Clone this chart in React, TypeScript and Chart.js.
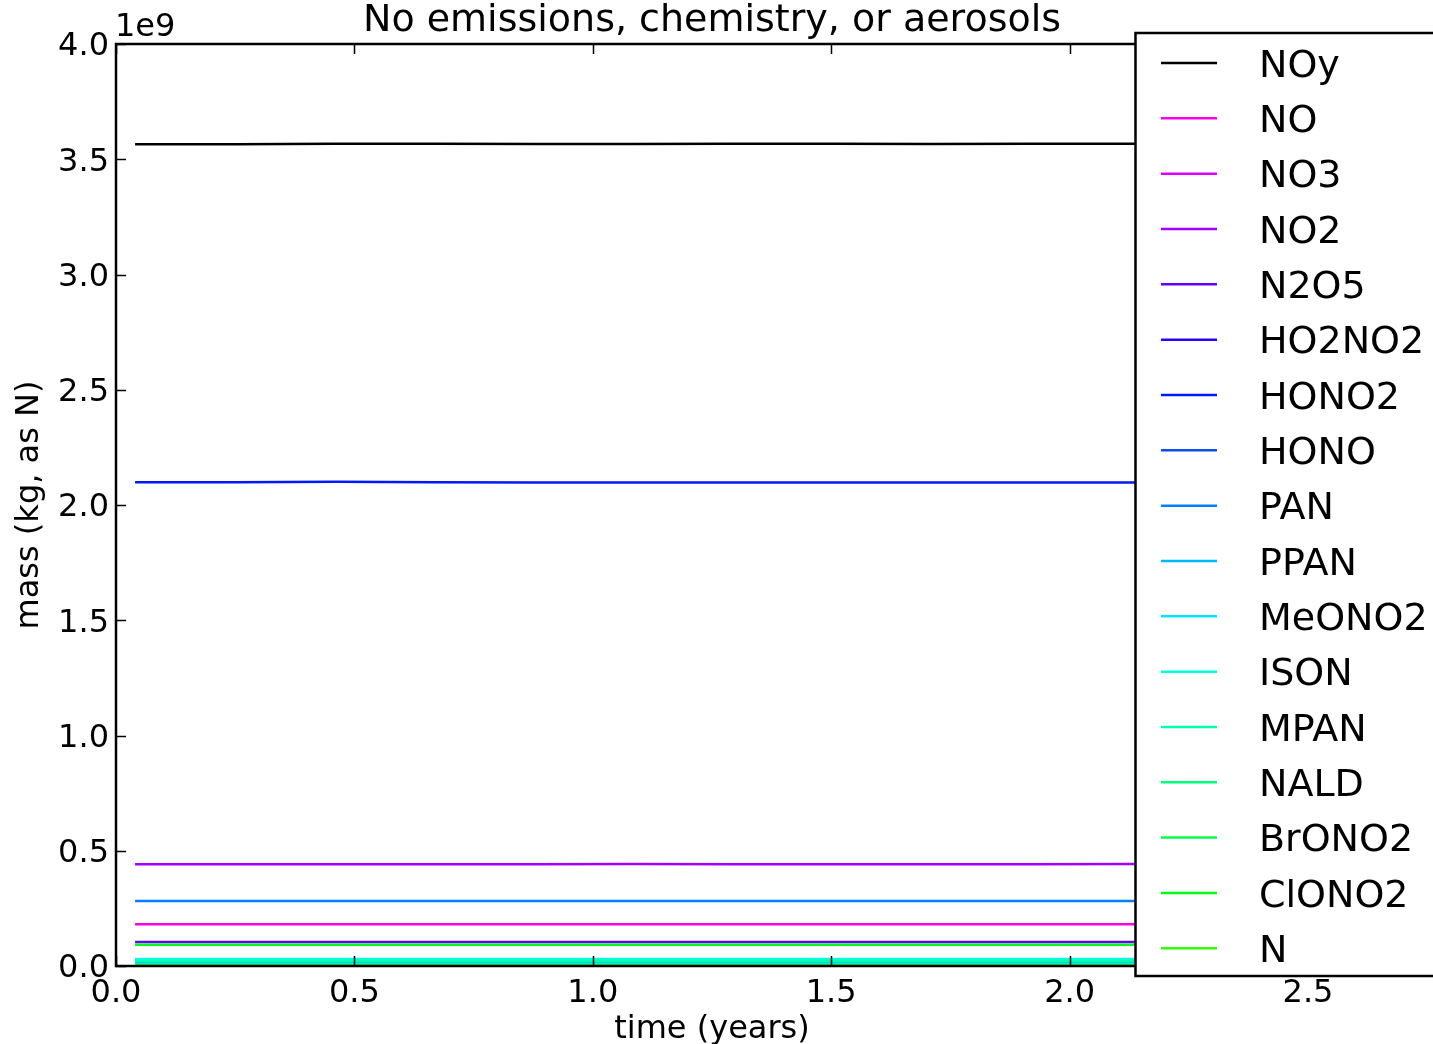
import React, { useEffect, useRef } from "react";
import { Chart, registerables } from "chart.js";

Chart.register(...registerables);

// time (years)
const TIMES = [0.04, 0.25, 0.46, 0.67, 0.88, 1.08, 1.29, 1.5, 1.71, 1.92, 2.13, 2.33, 2.46];

// mass (kg, as N), in units of 1e9
const NOY = [3.565, 3.565, 3.567, 3.567, 3.566, 3.566, 3.567, 3.567, 3.566, 3.567, 3.567, 3.566, 3.566];
const NO = [0.181, 0.181, 0.181, 0.181, 0.181, 0.181, 0.181, 0.181, 0.181, 0.181, 0.181, 0.181, 0.181];
const NO3 = [0.004, 0.004, 0.004, 0.004, 0.004, 0.004, 0.004, 0.004, 0.004, 0.004, 0.004, 0.004, 0.004];
const NO2 = [0.441, 0.441, 0.441, 0.441, 0.441, 0.442, 0.441, 0.441, 0.441, 0.441, 0.442, 0.441, 0.441];
const N2O5 = [0.104, 0.104, 0.104, 0.104, 0.104, 0.104, 0.104, 0.104, 0.104, 0.104, 0.104, 0.104, 0.104];
const HO2NO2 = [0.006, 0.006, 0.006, 0.006, 0.006, 0.006, 0.006, 0.006, 0.006, 0.006, 0.006, 0.006, 0.006];
const HONO2 = [2.099, 2.099, 2.101, 2.099, 2.098, 2.098, 2.098, 2.098, 2.098, 2.098, 2.098, 2.098, 2.098];
const HONO = [0.003, 0.003, 0.003, 0.003, 0.003, 0.003, 0.003, 0.003, 0.003, 0.003, 0.003, 0.003, 0.003];
const PAN = [0.282, 0.282, 0.282, 0.282, 0.282, 0.282, 0.282, 0.282, 0.282, 0.282, 0.282, 0.282, 0.282];
const PPAN = [0.012, 0.012, 0.012, 0.012, 0.012, 0.012, 0.012, 0.012, 0.012, 0.012, 0.012, 0.012, 0.012];
const MEONO2 = [0.009, 0.009, 0.009, 0.009, 0.009, 0.009, 0.009, 0.009, 0.009, 0.009, 0.009, 0.009, 0.009];
const ISON = [0.030, 0.030, 0.030, 0.030, 0.030, 0.030, 0.030, 0.030, 0.030, 0.030, 0.030, 0.030, 0.030];
const MPAN = [0.022, 0.022, 0.022, 0.022, 0.022, 0.022, 0.022, 0.022, 0.022, 0.022, 0.022, 0.022, 0.022];
const NALD = [0.005, 0.005, 0.005, 0.005, 0.005, 0.005, 0.005, 0.005, 0.005, 0.005, 0.005, 0.005, 0.005];
const BRONO2 = [0.002, 0.002, 0.002, 0.002, 0.002, 0.002, 0.002, 0.002, 0.002, 0.002, 0.002, 0.002, 0.002];
const CLONO2 = [0.092, 0.092, 0.092, 0.092, 0.092, 0.092, 0.092, 0.092, 0.092, 0.092, 0.092, 0.092, 0.092];
const N = [0.001, 0.001, 0.001, 0.001, 0.001, 0.001, 0.001, 0.001, 0.001, 0.001, 0.001, 0.001, 0.001];

const LABELS = ["NOy", "NO", "NO3", "NO2", "N2O5", "HO2NO2", "HONO2", "HONO", "PAN", "PPAN", "MeONO2", "ISON", "MPAN", "NALD", "BrONO2", "ClONO2", "N"];
const SERIES = [NOY, NO, NO3, NO2, N2O5, HO2NO2, HONO2, HONO, PAN, PPAN, MEONO2, ISON, MPAN, NALD, BRONO2, CLONO2, N];
const COLORS = ["#000000", "#ff00e6", "#dc00ff", "#a400ff", "#6400ff", "#2800ff", "#0018ff", "#0a50e6", "#0080ff", "#00b8ff", "#00e4ff", "#00ffe2", "#00ffb0", "#00ff7c", "#00ff48", "#00ff14", "#34ff00"];

const X_TICKS = [0, 0.5, 1.0, 1.5, 2.0, 2.5];
const Y_TICKS = [0, 0.5, 1.0, 1.5, 2.0, 2.5, 3.0, 3.5, 4.0];

const TITLE = "No emissions, chemistry, or aerosols";
const FONT = "DejaVu Sans";

const decorPlugin = {
  id: "decor",
  afterDraw(chart: any) {
    const ctx = chart.ctx as CanvasRenderingContext2D;
    const { left, right, top, bottom } = chart.chartArea;
    const xs = chart.scales.x;
    const ys = chart.scales.y;
    ctx.save();
    // inward ticks
    ctx.strokeStyle = "#000";
    ctx.lineWidth = 1.5;
    ctx.beginPath();
    for (const t of X_TICKS) {
      const px = Math.round(xs.getPixelForValue(t)) + 0.5;
      ctx.moveTo(px, bottom);
      ctx.lineTo(px, bottom - 10);
      ctx.moveTo(px, top);
      ctx.lineTo(px, top + 10);
    }
    for (const t of Y_TICKS) {
      const py = Math.round(ys.getPixelForValue(t)) + 0.5;
      ctx.moveTo(left, py);
      ctx.lineTo(left + 10, py);
      ctx.moveTo(right, py);
      ctx.lineTo(right - 10, py);
    }
    ctx.stroke();
    // frame
    ctx.lineWidth = 2.5;
    ctx.strokeRect(left, top, right - left, bottom - top);
    // title
    ctx.fillStyle = "#000";
    ctx.font = `38px "${FONT}"`;
    ctx.textAlign = "center";
    ctx.textBaseline = "alphabetic";
    ctx.fillText(TITLE, (left + right) / 2, 31);
    // offset text
    ctx.font = `32px "${FONT}"`;
    ctx.textAlign = "left";
    ctx.fillText("1e9", left - 1, 36);
    // legend
    const lx = 1135.5;
    const ly = 33;
    ctx.fillStyle = "#fff";
    ctx.fillRect(lx, ly, 400, 976 - ly);
    ctx.lineWidth = 2.5;
    ctx.strokeStyle = "#000";
    ctx.strokeRect(lx, ly, 400, 976 - ly);
    ctx.font = `38px "${FONT}"`;
    ctx.textAlign = "left";
    chart.data.datasets.forEach((ds: any, i: number) => {
      const y = 63 + i * 55.33;
      ctx.strokeStyle = ds.borderColor;
      ctx.lineWidth = 2.5;
      ctx.beginPath();
      ctx.moveTo(1161, y);
      ctx.lineTo(1217, y);
      ctx.stroke();
      ctx.fillStyle = "#000";
      ctx.fillText(ds.label, 1259, y + 13.8);
    });
    ctx.restore();
  },
};

export default function App() {
  const ref = useRef<HTMLCanvasElement>(null);
  useEffect(() => {
    const canvas = ref.current;
    if (!canvas) return;
    Chart.defaults.font.family = FONT;
    const datasets = SERIES.map((vals, i) => ({
      label: LABELS[i],
      data: vals.map((v, j) => ({ x: TIMES[j], y: v })),
      borderColor: COLORS[i],
      backgroundColor: COLORS[i],
      borderWidth: 2.5,
      pointRadius: 0,
      tension: 0,
      fill: false,
      order: LABELS.length - i,
    }));
    const chart = new Chart(canvas, {
      type: "line",
      data: { datasets },
      options: {
        responsive: false,
        devicePixelRatio: 1,
        animation: false,
        layout: { padding: { top: 44, right: 125, left: 0, bottom: 0 } },
        plugins: { legend: { display: false }, tooltip: { enabled: false }, title: { display: false } },
        scales: {
          x: {
            type: "linear",
            min: 0,
            max: 2.5,
            grid: { display: false, drawTicks: false },
            border: { display: false },
            ticks: {
              stepSize: 0.5,
              color: "#000",
              font: { size: 32, family: FONT },
              padding: 8,
              maxRotation: 0,
              autoSkip: false,
              callback: (v: any) => Number(v).toFixed(1),
            },
            title: { display: true, text: "time (years)", color: "#000", font: { size: 32, family: FONT }, padding: { top: 0, bottom: -5 } },
            afterFit: (s: any) => { s.height = 78; },
          },
          y: {
            type: "linear",
            min: 0,
            max: 4,
            grid: { display: false, drawTicks: false },
            border: { display: false },
            ticks: {
              stepSize: 0.5,
              color: "#000",
              font: { size: 32, family: FONT },
              padding: 7,
              labelOffset: 3,
              autoSkip: false,
              callback: (v: any) => Number(v).toFixed(1),
            },
            title: { display: true, text: "mass (kg, as N)", color: "#000", font: { size: 32, family: FONT }, padding: { top: 10, bottom: 0 } },
            afterFit: (s: any) => { s.width = 116; },
          },
        },
      },
      plugins: [decorPlugin],
    });
    return () => chart.destroy();
  }, []);
  return (
    <div style={{ position: "fixed", left: 0, top: 0, width: 1433, height: 1044, overflow: "hidden", background: "#fff" }}>
      <canvas ref={ref} width={1433} height={1044} style={{ display: "block", width: 1433, height: 1044 }} />
    </div>
  );
}
